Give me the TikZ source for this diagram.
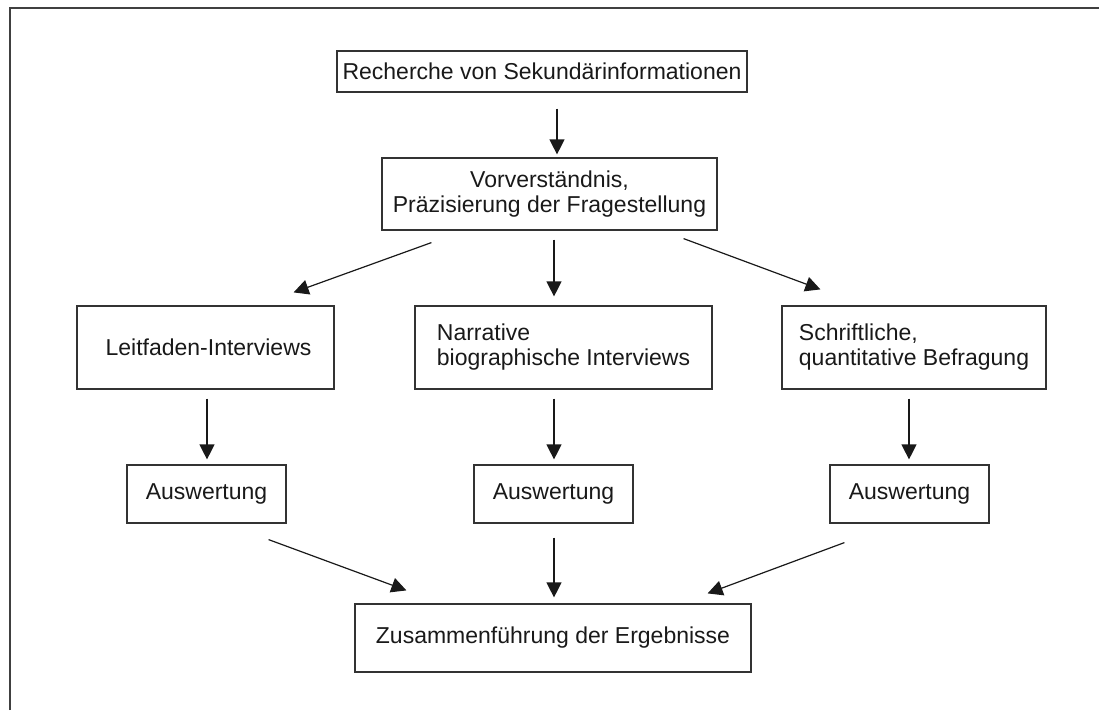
\documentclass[tikz,border=0pt]{standalone}
\usepackage{fontspec}
\setmainfont{Liberation Sans}
\usetikzlibrary{positioning,arrows.meta,calc}

\begin{document}
\begin{tikzpicture}[x=1pt,y=-1pt,
    box/.style={draw=black!80, line width=1.2pt, inner sep=0pt, text=black!90,
        font=\fontsize{23}{25}\selectfont},
    arr/.style={draw=black!90, line width=1.2pt, -{Triangle[length=15pt,width=15pt]}}]
    \useasboundingbox (0,0) rectangle (1099,710);

    % Frame
    \draw [black!75, line width=2pt] (10,710) -- (10,8) -- (1099,8);

    % Top
    \node[box, minimum width=410pt, minimum height=41pt] (rech) at (542,71.5)
        {Recherche von Sekundärinformationen};
    \node[box, align=center, minimum width=335pt, minimum height=72pt] (vor) at (549.5,194)
        {Vorverständnis,\\ Präzisierung der Fragestellung};

    % Methods
    \node[box, minimum width=257pt, minimum height=83pt] (leit) at (205.5,347.5)
        {\hspace{6pt}Leitfaden-Interviews};
    \node[box, align=left, minimum width=297pt, minimum height=83pt] (narr) at (563.5,347.5)
        {Narrative\\biographische Interviews};
    \node[box, align=left, minimum width=264pt, minimum height=83pt] (schr) at (914,347.5)
        {Schriftliche,\\quantitative Befragung};

    % Evaluation
    \foreach \n/\x in {1/206.5,2/553.5,3/909.5} {
        \node[box, minimum width=159pt, minimum height=58pt] (aus\n) at (\x,494) {Auswertung};
    }

    % Result
    \node[box, minimum width=396pt, minimum height=68pt] (zus) at (553,638)
        {Zusammenführung der Ergebnisse};

    % Arrows
    \draw[arr] ($(rech.south)+(15,16)$) -- ($(vor.north)+(7.5,-3)$);
    \draw[arr] ($(vor.south west)+(50,12)$) -- ($(leit.north east)+(-41,-13)$);
    \draw[arr] ($(vor.south)+(4.5,9)$) -- ($(narr.north)+(-9.5,-9)$);
    \draw[arr] ($(vor.south east)+(-34,8)$) -- ($(schr.north west)+(39,-16)$);

    \draw[arr] ($(leit.south)+(1.5,9)$) -- ($(aus1.north)+(0.5,-5)$);
    \draw[arr] ($(narr.south)+(-9.5,9)$) -- ($(aus2.north)+(0.5,-5)$);
    \draw[arr] ($(schr.south)+(-5,9)$) -- ($(aus3.north)+(-0.5,-5)$);

    \draw[arr] ($(aus1.south east)+(-18,16)$) -- ($(zus.north west)+(52,-13)$);
    \draw[arr] ($(aus2.south)+(0.5,14)$) -- ($(zus.north)+(1,-6)$);
    \draw[arr] ($(aus3.south west)+(15,19)$) -- ($(zus.north east)+(-44,-10)$);
\end{tikzpicture}
\end{document}
